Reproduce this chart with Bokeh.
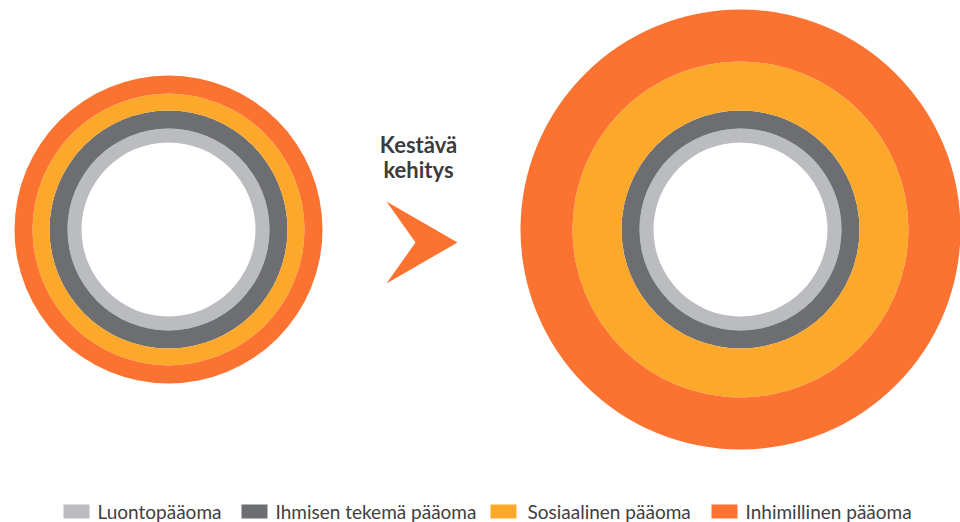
from bokeh.plotting import figure
from bokeh.models import Range1d, ColumnDataSource
from bokeh.core.properties import value
from bokeh.embed import file_html
from bokeh.resources import INLINE

# ---- data ----
categories = ["Luontopääoma", "Ihmisen tekemä pääoma", "Sosiaalinen pääoma", "Inhimillinen pääoma"]
colors = ["#BBBCBF", "#6D6E72", "#FCA82B", "#FC7230"]
core_radius = 87
widths_before = [14, 18, 17, 18]
widths_after = [14, 18, 49, 52]
title_lines = ["Kestävä", "kehitys"]

# ---- layout (screen pixel coordinates) ----
W, H = 960, 522
p = figure(width=W, height=H, output_backend="svg", toolbar_location=None,
           x_range=Range1d(0, W), y_range=Range1d(H, 0),
           min_border=0, outline_line_color=None)
p.axis.visible = False
p.grid.visible = False
p.background_fill_color = "white"
p.border_fill_color = "white"


def rings(cx, cy, widths):
    inner, outer = [], []
    r = core_radius
    for w in widths:
        inner.append(r)
        r += w
        outer.append(r)
    src = ColumnDataSource(dict(x=[cx] * len(widths), y=[cy] * len(widths),
                                ir=inner, orr=outer, c=colors, cat=categories))
    p.annulus(x="x", y="y", inner_radius="ir", outer_radius="orr",
              fill_color="c", line_color=None, source=src)


rings(168, 229, widths_before)
rings(740, 229, widths_after)

# arrow (chevron)
ax, ay = 386, 242
p.patch([ax, ax + 71, ax, ax + 29], [ay - 41, ay, ay + 41, ay],
        fill_color="#FC7230", line_color=None)

# title text
p.text(x=[418, 418], y=[144, 169], text=title_lines,
       text_font=value("Lato"), text_font_style="bold", text_font_size="22px",
       text_color="#3C3C3E", text_align="center", text_baseline="middle")

# legend
sq_x = [76, 254, 503, 724]
tx_x = [97, 275, 527, 745]
ly = 511
p.rect(x=sq_x, y=[ly] * 4, width=26, height=14, fill_color=colors, line_color=None)
p.text(x=tx_x, y=[ly] * 4, text=categories,
       text_font=value("Lato"), text_font_size="19px", text_color="#414042",
       text_align="left", text_baseline="middle")

open("out.html", "w").write(file_html(p, INLINE))
